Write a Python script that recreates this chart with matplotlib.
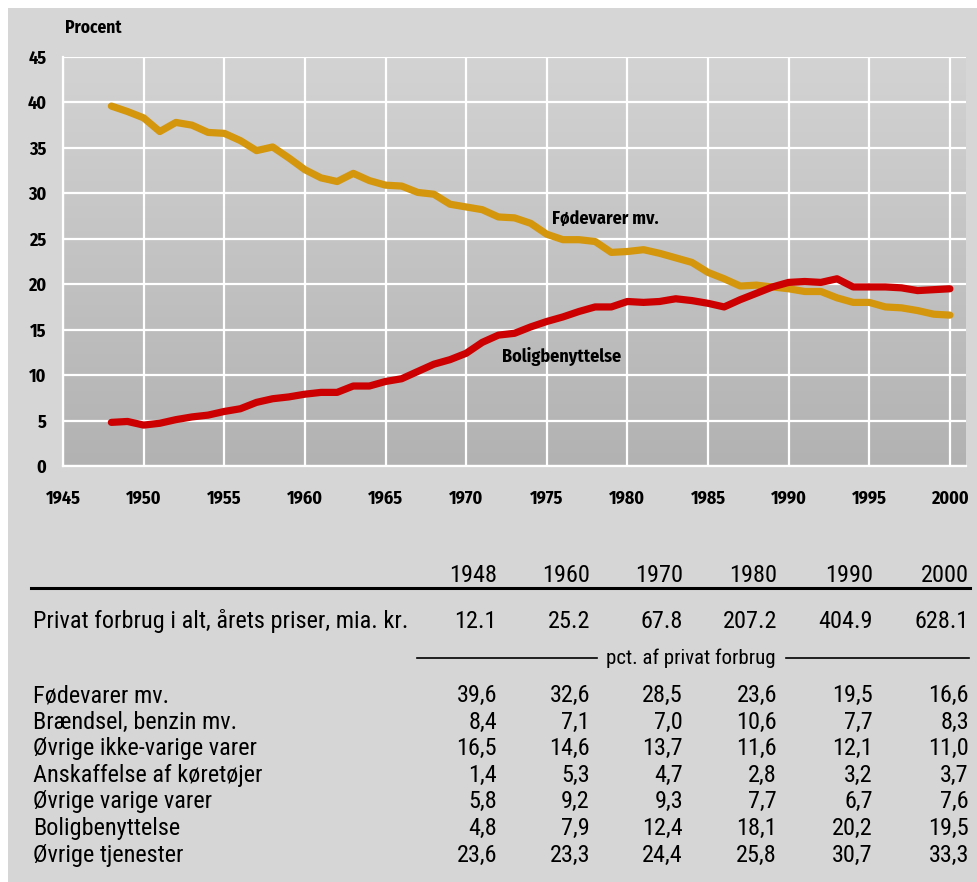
import numpy as np
import matplotlib
matplotlib.use("Agg")
import matplotlib.pyplot as plt
from matplotlib.colors import LinearSegmentedColormap
from matplotlib.patches import Rectangle

CHART_FONT = ["Fira Sans Condensed", "DejaVu Sans"]
TABLE_FONT = ["Roboto Condensed", "DejaVu Sans"]
plt.rcParams["font.family"] = CHART_FONT

# ---- data -------------------------------------------------------------------
years = list(range(1948, 2001))
food = [39.6, 39.0, 38.3, 36.8, 37.8, 37.5, 36.7, 36.6, 35.8, 34.7,
        35.1, 33.9, 32.6, 31.7, 31.3, 32.2, 31.4, 30.9, 30.8, 30.1,
        29.9, 28.8, 28.5, 28.2, 27.4, 27.3, 26.7, 25.5, 24.9, 24.9,
        24.7, 23.5, 23.6, 23.8, 23.4, 22.9, 22.4, 21.3, 20.6, 19.8,
        19.9, 19.7, 19.5, 19.2, 19.2, 18.5, 18.0, 18.0, 17.5, 17.4,
        17.1, 16.7, 16.6]
housing = [4.8, 4.9, 4.5, 4.7, 5.1, 5.4, 5.6, 6.0, 6.3, 7.0,
           7.4, 7.6, 7.9, 8.1, 8.1, 8.8, 8.8, 9.3, 9.6, 10.4,
           11.2, 11.7, 12.4, 13.6, 14.4, 14.6, 15.3, 15.9, 16.4, 17.0,
           17.5, 17.5, 18.1, 18.0, 18.1, 18.4, 18.2, 17.9, 17.5, 18.3,
           19.0, 19.7, 20.2, 20.3, 20.2, 20.6, 19.7, 19.7, 19.7, 19.6,
           19.3, 19.4, 19.5]

table_years = ["1948", "1960", "1970", "1980", "1990", "2000"]
total_label = "Privat forbrug i alt, årets priser, mia. kr."
total_values = ["12.1", "25.2", "67.8", "207.2", "404.9", "628.1"]
row_labels = ["Fødevarer mv.", "Brændsel, benzin mv.", "Øvrige ikke-varige varer",
              "Anskaffelse af køretøjer", "Øvrige varige varer",
              "Boligbenyttelse", "Øvrige tjenester"]
row_values = [
    ["39,6", "32,6", "28,5", "23,6", "19,5", "16,6"],
    ["8,4", "7,1", "7,0", "10,6", "7,7", "8,3"],
    ["16,5", "14,6", "13,7", "11,6", "12,1", "11,0"],
    ["1,4", "5,3", "4,7", "2,8", "3,2", "3,7"],
    ["5,8", "9,2", "9,3", "7,7", "6,7", "7,6"],
    ["4,8", "7,9", "12,4", "18,1", "20,2", "19,5"],
    ["23,6", "23,3", "24,4", "25,8", "30,7", "33,3"],
]

W, H = 978, 882
BG = "#d6d6d6"
FOOD_C = "#d4960c"
HOUSE_C = "#cc0000"


def fx(px):
    return px / W


def fy(py):
    return 1 - py / H


fig = plt.figure(figsize=(W / 100, H / 100), dpi=100, facecolor="white")
fig.patches.append(Rectangle((fx(8), 0), 1, fy(8), transform=fig.transFigure,
                             facecolor=BG, edgecolor="none", zorder=-10))

# ---- line chart -------------------------------------------------------------
ax = fig.add_axes([fx(63), fy(466), fx(966) - fx(63), fy(57) - fy(466)])
grad = LinearSegmentedColormap.from_list("g", ["#b2b2b2", "#d3d3d3"])
ax.imshow(np.linspace(0, 1, 256).reshape(-1, 1), extent=[1945, 2001, 0, 45],
          origin="lower", aspect="auto", cmap=grad, zorder=0)
ax.set_xlim(1945, 2001)
ax.set_ylim(0, 45)
ax.set_xticks(range(1945, 2001, 5))
ax.set_yticks(range(0, 46, 5))
ax.grid(color="white", lw=1.6)
for s in ["top", "right"]:
    ax.spines[s].set_visible(False)
for s in ["left", "bottom"]:
    ax.spines[s].set_color("white")
    ax.spines[s].set_linewidth(1.6)
ax.tick_params(length=0, labelsize=13, colors="black")
ax.tick_params(axis="x", pad=17)
ax.tick_params(axis="y", pad=12)
for lab in ax.get_xticklabels() + ax.get_yticklabels():
    lab.set_fontweight("bold")

ax.plot(years, food, color=FOOD_C, lw=5.2, solid_capstyle="round",
        solid_joinstyle="round", zorder=3)
ax.plot(years, housing, color=HOUSE_C, lw=5.2, solid_capstyle="round",
        solid_joinstyle="round", zorder=4)
ax.text(1975.3, 27.2, "Fødevarer mv.", fontsize=13, fontweight="bold",
        va="center", ha="left")
ax.text(1972.2, 12.1, "Boligbenyttelse", fontsize=13, fontweight="bold",
        va="center", ha="left")

fig.text(fx(65), fy(28), "Procent", fontsize=12.5, fontweight="bold",
         va="center", ha="left")

# ---- table ------------------------------------------------------------------
col_right = [497, 590, 683, 777, 873, 969]
tkw = dict(fontsize=17.5, va="baseline", family=TABLE_FONT)
for x, yr in zip(col_right, table_years):
    fig.text(fx(x), fy(582), yr, ha="right", **tkw)
fig.add_artist(plt.Line2D([fx(31), fx(970)], [fy(588), fy(588)], color="black",
                          lw=2.2, transform=fig.transFigure))

fig.text(fx(33), fy(628), total_label, ha="left", **tkw)
for x, v in zip(col_right, total_values):
    fig.text(fx(x), fy(628), v, ha="right", **tkw)

fig.text(fx(691), fy(664), "pct. af privat forbrug", fontsize=15,
         ha="center", va="baseline", family=TABLE_FONT)
for x0, x1 in [(417, 597), (786, 969)]:
    fig.add_artist(plt.Line2D([fx(x0), fx(x1)], [fy(658), fy(658)], color="black",
                              lw=1.2, transform=fig.transFigure))

row_y0, row_dy = 702, 26.6
for i, (lab, vals) in enumerate(zip(row_labels, row_values)):
    y = row_y0 + i * row_dy
    fig.text(fx(33), fy(y), lab, ha="left", **tkw)
    for x, v in zip(col_right, vals):
        fig.text(fx(x), fy(y), v, ha="right", **tkw)

fig.savefig("out.png", dpi=100, facecolor=fig.get_facecolor())
